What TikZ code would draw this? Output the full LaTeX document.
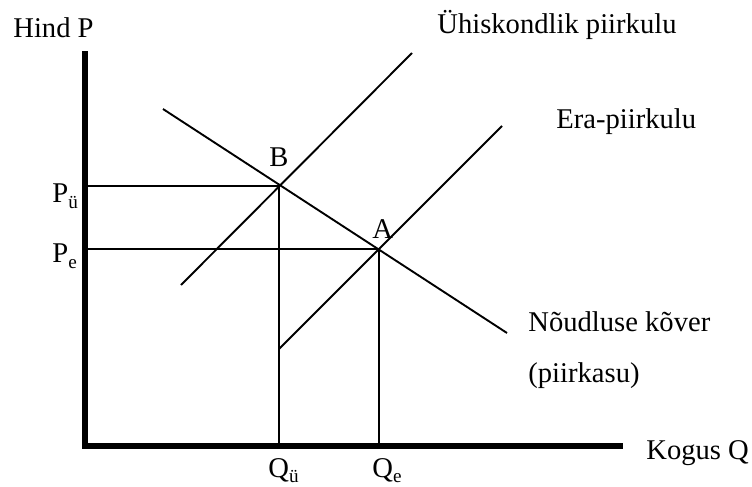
\documentclass[tikz,border=0pt]{standalone}
\usepackage{fontspec}
\setmainfont{Liberation Serif}

% small lowered index for P and Q
\newcommand{\lowsub}[1]{\raisebox{-0.2em}{\fontsize{9.6}{11}\selectfont #1}}

\begin{document}
\begin{tikzpicture}[x=0.5pt,y=-0.5pt,
    axis/.style={line width=2.6pt,line join=miter},
    curve/.style={line width=0.95pt},
    guide/.style={line width=0.95pt},
    lbl/.style={anchor=base west,inner sep=0pt,font=\fontsize{14.3}{17}\selectfont},
]
\useasboundingbox (0,0) rectangle (752,487);

% ================= points =================
\coordinate (top) at (85,51);
\coordinate (O) at (85,446);
\coordinate (right) at (623,446);
\coordinate (B) at (279,186);
\coordinate (A) at (379,249);
\coordinate (demS) at (163,109);   \coordinate (demE) at (507,333);
\coordinate (socS) at (181,285);   \coordinate (socE) at (412,53);
\coordinate (privS) at (279,349);  \coordinate (privE) at (502,126);

% ================= axes and curves =================
\draw[axis] (top) |- (right);
\draw[curve] (demS) -- (demE);
\draw[curve] (socS) -- (socE);
\draw[curve] (privS) -- (privE);
\draw[guide] (top |- B) -- (B) -- (B |- O);
\draw[guide] (top |- A) -- (A) -- (A |- O);

% ================= labels =================
\node[lbl] (lblP) at (13,38) {Hind P};
\node[lbl] (lblQ) at (646,459) {Kogus Q};
\node[lbl] (lblSoc) at (437,33) {Ühiskondlik piirkulu};
\node[lbl] (lblPriv) at (556,128) {Era-piirkulu};
\node[lbl] (lblDem) at (528,331) {Nõudluse kõver};
\node[lbl] (lblDemB) at (528,382) {(piirkasu)};
\node[lbl] (lblB) at (269,166) {B};
\node[lbl] (lblA) at (372,238) {A};
\node[lbl] (lblPu) at (52,203) {P\lowsub{ü}};
\node[lbl] (lblPe) at (52,263) {P\lowsub{e}};
\node[lbl] (lblQu) at (268,477) {Q\lowsub{ü}};
\node[lbl] (lblQe) at (372,477) {Q\lowsub{e}};

\end{tikzpicture}
\end{document}
